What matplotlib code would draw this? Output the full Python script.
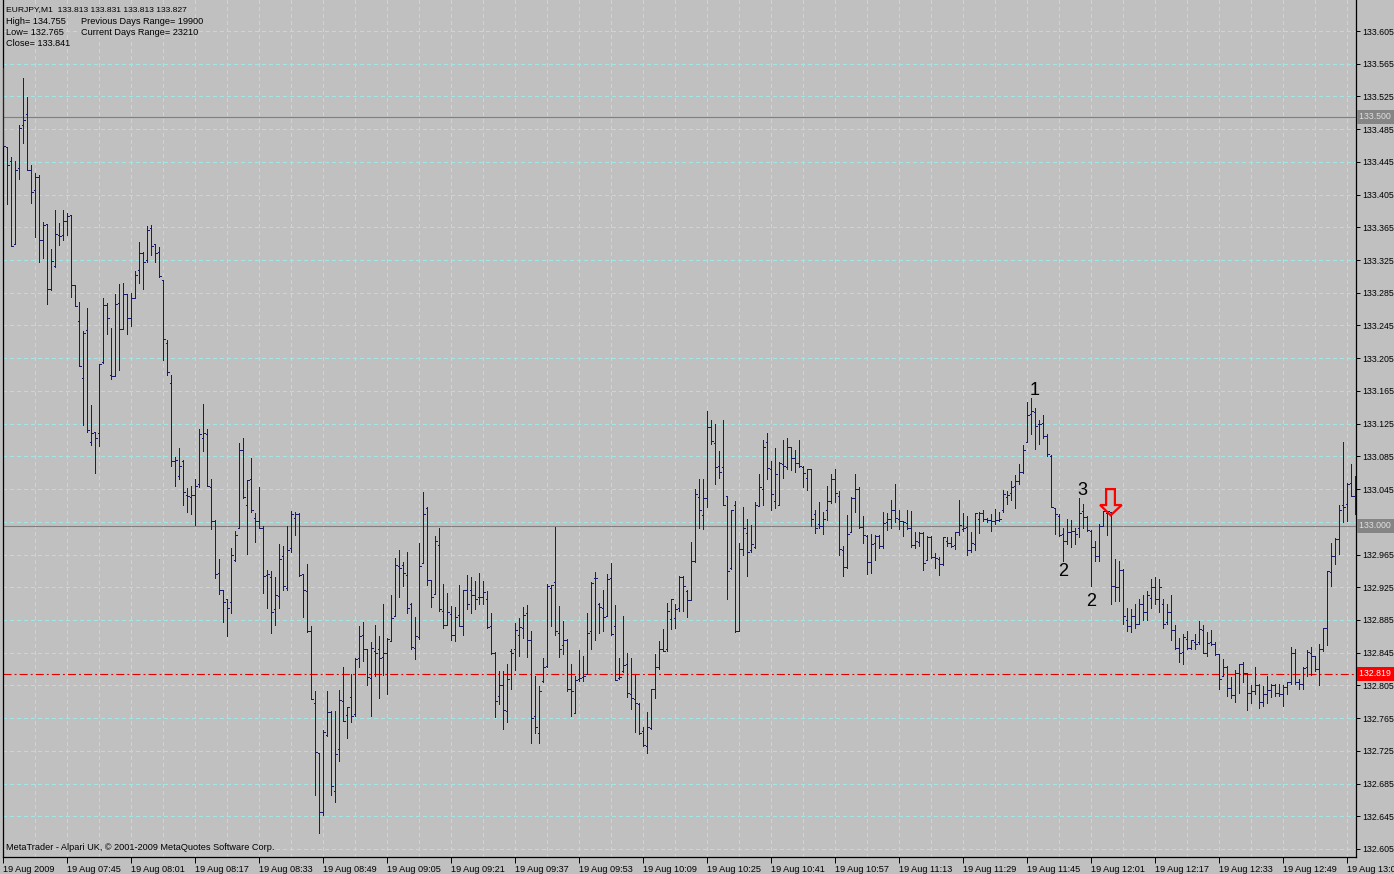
import matplotlib
matplotlib.use("Agg")
import matplotlib.pyplot as plt
import matplotlib.transforms as mtransforms
from matplotlib.collections import LineCollection
from matplotlib.patches import Polygon
import numpy as np

plt.rcParams['font.family'] = ['Liberation Sans', 'DejaVu Sans']
plt.rcParams['lines.scale_dashes'] = False

# EURJPY M1 bars, one per minute starting 07:29
opens = [
    133.520, 133.463, 133.446, 133.344, 133.438, 133.490, 133.503, 133.435, 133.411, 133.427,
    133.349, 133.369, 133.289, 133.318, 133.355, 133.355, 133.373, 133.380, 133.295, 133.250,
    133.181, 133.239, 133.103, 133.115, 133.113, 133.200, 133.270, 133.185, 133.183, 133.272,
    133.241, 133.284, 133.254, 133.278, 133.313, 133.334, 133.325, 133.364, 133.344, 133.335,
    133.300, 133.223, 133.175, 133.079, 133.061, 133.079, 133.038, 133.035, 133.038, 133.051,
    133.107, 133.112, 133.048, 133.006, 132.943, 132.922, 132.910, 132.907, 132.958, 132.998,
    133.093, 133.026, 133.057, 133.010, 133.006, 132.997, 132.940, 132.937, 132.898, 132.914,
    132.963, 132.924, 132.973, 133.010, 133.015, 132.941, 132.921, 132.872, 132.784, 132.722,
    132.650, 132.744, 132.772, 132.676, 132.727, 132.786, 132.769, 132.791, 132.770, 132.839,
    132.867, 132.849, 132.814, 132.847, 132.849, 132.840, 132.845, 132.859, 132.890, 132.951,
    132.952, 132.940, 132.905, 132.851, 132.864, 132.955, 133.022, 132.934, 132.917, 132.977,
    132.896, 132.879, 132.892, 132.867, 132.891, 132.877, 132.922, 132.922, 132.915, 132.913,
    132.913, 132.911, 132.877, 132.844, 132.792, 132.805, 132.774, 132.847, 132.850, 132.866,
    132.875, 132.893, 132.860, 132.767, 132.747, 132.810, 132.829, 132.924, 132.931, 132.869,
    132.854, 132.861, 132.800, 132.771, 132.813, 132.815, 132.819, 132.872, 132.936, 132.905,
    132.900, 132.890, 132.936, 132.877, 132.814, 132.822, 132.831, 132.795, 132.788, 132.782,
    132.749, 132.731, 132.753, 132.800, 132.828, 132.850, 132.850, 132.886, 132.887, 132.900,
    132.937, 132.921, 132.909, 132.957, 133.035, 133.013, 133.034, 133.121, 133.101, 133.073,
    133.072, 133.036, 132.949, 133.026, 132.872, 132.972, 132.991, 132.970, 132.974, 133.024,
    133.045, 133.102, 133.070, 133.030, 133.025, 133.076, 133.072, 133.096, 133.083, 133.077,
    133.072, 133.059, 133.069, 133.015, 133.002, 133.000, 133.019, 133.030, 133.057, 133.036,
    132.971, 132.950, 132.992, 133.034, 133.045, 132.999, 132.988, 132.956, 132.979, 132.988,
    132.975, 133.005, 133.009, 133.019, 133.009, 133.006, 133.004, 132.997, 132.977, 132.980,
    132.991, 132.958, 132.986, 132.962, 132.959, 132.954, 132.982, 132.979, 132.977, 132.992,
    132.996, 132.999, 132.970, 132.978, 133.009, 133.016, 133.009, 133.007, 133.006, 133.007,
    133.019, 133.035, 133.040, 133.049, 133.055, 133.066, 133.103, 133.137, 133.139, 133.124,
    133.126, 133.110, 133.086, 133.022, 133.012, 132.990, 132.981, 132.993, 132.994, 132.997,
    133.018, 133.011, 132.994, 132.974, 132.963, 133.000, 133.016, 133.017, 132.926, 132.925,
    132.946, 132.885, 132.878, 132.890, 132.880, 132.905, 132.895, 132.912, 132.925, 132.910,
    132.905, 132.882, 132.895, 132.873, 132.851, 132.846, 132.862, 132.851, 132.858, 132.858,
    132.873, 132.845, 132.858, 132.856, 132.843, 132.816, 132.828, 132.802, 132.793, 132.820,
    132.831, 132.820, 132.796, 132.798, 132.805, 132.785, 132.795, 132.799, 132.805, 132.796,
    132.795, 132.803, 132.809, 132.845, 132.809, 132.807, 132.827, 132.845, 132.841, 132.825,
    132.849, 132.875, 132.944, 132.963, 132.984, 133.025, 133.027, 133.052, 133.037,
]
highs = [
    133.560, 133.463, 133.451, 133.446, 133.490, 133.547, 133.524, 133.441, 133.432, 133.429,
    133.371, 133.369, 133.338, 133.386, 133.370, 133.386, 133.382, 133.380, 133.295, 133.274,
    133.238, 133.266, 133.148, 133.115, 133.198, 133.278, 133.272, 133.242, 133.283, 133.296,
    133.297, 133.284, 133.285, 133.312, 133.347, 133.335, 133.367, 133.368, 133.345, 133.341,
    133.300, 133.227, 133.185, 133.084, 133.095, 133.080, 133.046, 133.049, 133.057, 133.118,
    133.149, 133.119, 133.057, 133.007, 132.959, 132.922, 132.911, 132.973, 132.994, 133.101,
    133.107, 133.056, 133.083, 133.016, 133.047, 133.000, 132.946, 132.945, 132.937, 132.978,
    132.975, 133.000, 133.018, 133.017, 133.016, 132.941, 132.953, 132.877, 132.798, 132.722,
    132.750, 132.798, 132.774, 132.774, 132.799, 132.828, 132.779, 132.819, 132.838, 132.878,
    132.882, 132.850, 132.858, 132.879, 132.865, 132.904, 132.863, 132.916, 132.961, 132.970,
    132.956, 132.968, 132.906, 132.889, 132.979, 133.042, 133.023, 132.934, 132.988, 132.997,
    132.929, 132.918, 132.902, 132.901, 132.928, 132.922, 132.940, 132.938, 132.933, 132.943,
    132.933, 132.920, 132.894, 132.846, 132.823, 132.822, 132.831, 132.850, 132.881, 132.887,
    132.901, 132.903, 132.872, 132.817, 132.804, 132.839, 132.929, 132.928, 132.999, 132.902,
    132.884, 132.862, 132.831, 132.816, 132.848, 132.841, 132.894, 132.931, 132.944, 132.906,
    132.922, 132.941, 132.955, 132.903, 132.839, 132.890, 132.844, 132.839, 132.818, 132.783,
    132.754, 132.772, 132.801, 132.843, 132.859, 132.874, 132.906, 132.911, 132.905, 132.939,
    132.939, 132.922, 132.980, 133.045, 133.057, 133.057, 133.140, 133.130, 133.125, 133.092,
    133.129, 133.036, 133.019, 133.030, 132.979, 133.023, 133.008, 133.001, 133.029, 133.064,
    133.105, 133.114, 133.079, 133.095, 133.078, 133.105, 133.107, 133.096, 133.093, 133.105,
    133.073, 133.070, 133.069, 133.019, 133.029, 133.017, 133.049, 133.064, 133.070, 133.043,
    132.975, 133.013, 133.035, 133.064, 133.047, 133.012, 132.989, 132.990, 132.989, 132.989,
    133.017, 133.016, 133.032, 133.051, 133.020, 133.006, 133.019, 133.018, 132.993, 132.992,
    132.992, 132.988, 132.988, 132.967, 132.962, 132.987, 132.987, 132.986, 132.993, 133.032,
    133.016, 133.012, 132.992, 133.016, 133.017, 133.020, 133.010, 133.015, 133.021, 133.017,
    133.044, 133.043, 133.055, 133.062, 133.076, 133.099, 133.151, 133.156, 133.144, 133.130,
    133.135, 133.112, 133.087, 133.022, 133.014, 132.997, 133.008, 133.007, 132.998, 133.034,
    133.027, 133.012, 132.995, 132.981, 133.002, 133.018, 133.018, 133.017, 132.959, 132.957,
    132.947, 132.900, 132.898, 132.905, 132.910, 132.915, 132.920, 132.935, 132.937, 132.935,
    132.910, 132.905, 132.915, 132.879, 132.863, 132.868, 132.871, 132.861, 132.868, 132.884,
    132.879, 132.870, 132.873, 132.858, 132.843, 132.837, 132.829, 132.815, 132.824, 132.831,
    132.834, 132.820, 132.806, 132.828, 132.807, 132.804, 132.816, 132.807, 132.807, 132.807,
    132.805, 132.809, 132.852, 132.850, 132.813, 132.827, 132.848, 132.852, 132.841, 132.856,
    132.875, 132.945, 132.979, 132.985, 133.025, 133.103, 133.053, 133.076, 133.061,
]
lows = [
    133.464, 133.394, 133.342, 133.344, 133.424, 133.468, 133.435, 133.395, 133.353, 133.322,
    133.327, 133.271, 133.288, 133.316, 133.343, 133.349, 133.355, 133.280, 133.269, 133.195,
    133.123, 133.115, 133.099, 133.065, 133.098, 133.199, 133.234, 133.179, 133.183, 133.191,
    133.241, 133.234, 133.244, 133.278, 133.297, 133.289, 133.323, 133.331, 133.322, 133.304,
    133.203, 133.185, 133.073, 133.049, 133.057, 133.025, 133.017, 133.015, 133.001, 133.048,
    133.091, 133.049, 132.996, 132.936, 132.917, 132.882, 132.865, 132.893, 132.957, 132.997,
    133.034, 132.966, 133.017, 132.980, 132.997, 132.918, 132.900, 132.869, 132.879, 132.900,
    132.922, 132.922, 132.968, 132.989, 132.939, 132.888, 132.870, 132.788, 132.671, 132.624,
    132.647, 132.743, 132.671, 132.663, 132.712, 132.761, 132.741, 132.760, 132.767, 132.827,
    132.835, 132.805, 132.767, 132.816, 132.789, 132.818, 132.794, 132.859, 132.890, 132.913,
    132.926, 132.893, 132.849, 132.837, 132.862, 132.955, 132.928, 132.901, 132.917, 132.896,
    132.875, 132.879, 132.861, 132.859, 132.877, 132.867, 132.898, 132.893, 132.898, 132.905,
    132.905, 132.875, 132.843, 132.766, 132.782, 132.752, 132.760, 132.801, 132.824, 132.841,
    132.863, 132.840, 132.734, 132.747, 132.735, 132.809, 132.828, 132.877, 132.866, 132.840,
    132.843, 132.798, 132.768, 132.771, 132.810, 132.810, 132.819, 132.850, 132.860, 132.869,
    132.872, 132.890, 132.866, 132.812, 132.813, 132.821, 132.791, 132.776, 132.748, 132.746,
    132.731, 132.722, 132.752, 132.789, 132.825, 132.847, 132.847, 132.874, 132.875, 132.896,
    132.896, 132.889, 132.909, 132.956, 132.998, 132.996, 133.023, 133.100, 133.051, 133.059,
    133.026, 132.910, 132.947, 132.870, 132.872, 132.964, 132.939, 132.968, 132.973, 133.024,
    133.025, 133.057, 133.019, 133.022, 133.025, 133.059, 133.069, 133.068, 133.066, 133.072,
    133.048, 133.044, 133.000, 132.991, 132.997, 132.990, 133.007, 133.028, 133.029, 132.965,
    132.939, 132.948, 132.992, 133.017, 132.997, 132.979, 132.941, 132.943, 132.958, 132.973,
    132.973, 132.995, 132.997, 133.005, 132.996, 132.988, 132.996, 132.974, 132.973, 132.975,
    132.946, 132.958, 132.961, 132.949, 132.940, 132.952, 132.975, 132.974, 132.972, 132.989,
    132.994, 132.964, 132.968, 132.971, 132.991, 133.006, 133.005, 132.994, 133.002, 133.006,
    133.017, 133.027, 133.032, 133.022, 133.051, 133.065, 133.102, 133.112, 133.094, 133.100,
    133.108, 133.086, 133.023, 132.990, 132.988, 132.957, 132.978, 132.974, 132.978, 132.986,
    132.998, 132.994, 132.927, 132.957, 132.957, 133.000, 132.989, 132.904, 132.908, 132.908,
    132.880, 132.872, 132.870, 132.875, 132.880, 132.885, 132.885, 132.900, 132.905, 132.895,
    132.875, 132.880, 132.861, 132.850, 132.834, 132.831, 132.850, 132.850, 132.850, 132.856,
    132.844, 132.841, 132.854, 132.842, 132.800, 132.816, 132.792, 132.789, 132.785, 132.796,
    132.809, 132.775, 132.784, 132.795, 132.777, 132.780, 132.783, 132.791, 132.792, 132.792,
    132.780, 132.794, 132.807, 132.807, 132.800, 132.801, 132.816, 132.818, 132.822, 132.805,
    132.847, 132.854, 132.926, 132.954, 132.966, 133.005, 133.006, 133.036, 133.014,
]
closes = [
    133.464, 133.441, 133.342, 133.435, 133.487, 133.496, 133.435, 133.408, 133.427, 133.350,
    133.368, 133.290, 133.324, 133.357, 133.354, 133.373, 133.379, 133.295, 133.269, 133.195,
    133.236, 133.117, 133.113, 133.107, 133.198, 133.270, 133.254, 133.183, 133.271, 133.241,
    133.284, 133.254, 133.278, 133.307, 133.334, 133.322, 133.362, 133.342, 133.333, 133.306,
    133.228, 133.188, 133.079, 133.081, 133.073, 133.042, 133.036, 133.038, 133.049, 133.112,
    133.114, 133.049, 133.006, 132.941, 132.922, 132.907, 132.900, 132.965, 132.989, 133.093,
    133.035, 133.056, 133.019, 133.006, 132.998, 132.939, 132.941, 132.895, 132.916, 132.960,
    132.927, 132.970, 133.014, 133.015, 132.940, 132.922, 132.871, 132.788, 132.724, 132.650,
    132.748, 132.772, 132.682, 132.721, 132.787, 132.761, 132.778, 132.767, 132.837, 132.865,
    132.849, 132.815, 132.851, 132.845, 132.839, 132.845, 132.862, 132.887, 132.952, 132.949,
    132.942, 132.900, 132.852, 132.865, 132.951, 133.014, 132.934, 132.913, 132.981, 132.898,
    132.879, 132.895, 132.866, 132.889, 132.878, 132.922, 132.905, 132.916, 132.911, 132.913,
    132.919, 132.876, 132.844, 132.786, 132.805, 132.775, 132.813, 132.845, 132.873, 132.876,
    132.891, 132.861, 132.765, 132.754, 132.798, 132.828, 132.926, 132.928, 132.871, 132.850,
    132.860, 132.801, 132.798, 132.812, 132.814, 132.817, 132.869, 132.930, 132.936, 132.901,
    132.889, 132.935, 132.868, 132.812, 132.815, 132.830, 132.796, 132.789, 132.783, 132.747,
    132.732, 132.754, 132.800, 132.827, 132.849, 132.847, 132.896, 132.910, 132.898, 132.938,
    132.926, 132.909, 132.957, 133.039, 133.019, 133.034, 133.121, 133.104, 133.072, 133.066,
    133.026, 132.945, 133.019, 132.872, 132.972, 132.997, 132.968, 132.978, 133.026, 133.048,
    133.097, 133.071, 133.039, 133.063, 133.077, 133.073, 133.097, 133.083, 133.077, 133.073,
    133.065, 133.069, 133.008, 132.997, 133.000, 133.008, 133.030, 133.057, 133.040, 132.972,
    132.950, 132.990, 133.034, 133.045, 132.999, 132.989, 132.956, 132.978, 132.988, 132.975,
    133.003, 133.009, 133.020, 133.010, 133.006, 133.005, 132.997, 132.977, 132.981, 132.991,
    132.955, 132.986, 132.962, 132.961, 132.954, 132.987, 132.979, 132.976, 132.992, 133.001,
    132.997, 132.971, 132.979, 133.016, 133.016, 133.008, 133.007, 133.006, 133.007, 133.009,
    133.039, 133.038, 133.047, 133.055, 133.066, 133.093, 133.135, 133.141, 133.122, 133.124,
    133.110, 133.088, 133.023, 133.014, 132.989, 132.982, 132.993, 132.994, 132.990, 133.016,
    133.011, 132.995, 132.974, 132.963, 133.000, 133.018, 133.018, 132.926, 132.925, 132.946,
    132.890, 132.878, 132.890, 132.880, 132.905, 132.895, 132.915, 132.925, 132.910, 132.925,
    132.880, 132.895, 132.873, 132.851, 132.845, 132.864, 132.851, 132.860, 132.856, 132.874,
    132.845, 132.857, 132.856, 132.843, 132.813, 132.827, 132.802, 132.793, 132.820, 132.831,
    132.820, 132.796, 132.798, 132.805, 132.785, 132.794, 132.799, 132.805, 132.796, 132.795,
    132.803, 132.809, 132.845, 132.809, 132.807, 132.826, 132.846, 132.841, 132.825, 132.849,
    132.875, 132.945, 132.963, 132.984, 133.019, 133.023, 133.051, 133.037, 133.048,
]

price_levels = [133.605, 133.565, 133.525, 133.485, 133.445, 133.405, 133.365, 133.325,
                133.285, 133.245, 133.205, 133.165, 133.125, 133.085, 133.045, 133.005,
                132.965, 132.925, 132.885, 132.845, 132.805, 132.765, 132.725, 132.685,
                132.645, 132.605]
hidden_levels = [133.005]  # covered by the 133.000 marker on the scale
time_labels = ["19 Aug 2009", "19 Aug 07:45", "19 Aug 08:01", "19 Aug 08:17", "19 Aug 08:33",
               "19 Aug 08:49", "19 Aug 09:05", "19 Aug 09:21", "19 Aug 09:37", "19 Aug 09:53",
               "19 Aug 10:09", "19 Aug 10:25", "19 Aug 10:41", "19 Aug 10:57", "19 Aug 11:13",
               "19 Aug 11:29", "19 Aug 11:45", "19 Aug 12:01", "19 Aug 12:17", "19 Aug 12:33",
               "19 Aug 12:49", "19 Aug 13:05"]
level_lines = [133.500, 133.000]
bid_level = 132.819

header_lines = ["EURJPY,M1  133.813 133.831 133.813 133.827",
                "High= 134.755", "Low= 132.765", "Close= 133.841"]
range_lines = ["Previous Days Range= 19900", "Current Days Range= 23210"]

BG = "#C0C0C0"
GRID = "#A2E6E6"
BAR = "#1A1A6C"

W, H = 1394, 874
fig = plt.figure(figsize=(W / 100, H / 100), dpi=100)
fig.patch.set_facecolor(BG)
ax = fig.add_axes([3 / W, 17 / H, 1353 / W, 857 / H])
ax.set_facecolor(BG)

n = len(opens)
xs = np.arange(n)
o = np.array(opens)
c = np.array(closes)
hi = np.maximum(np.array(highs), np.maximum(o, c))
lo = np.minimum(np.array(lows), np.minimum(o, c))

# grid
for lv in price_levels:
    ax.axhline(lv, color=GRID, lw=0.72, ls=(0, (2.4, 2.2)), zorder=1, antialiased=False)
for k in range(8, n, 8):
    ax.axvline(k, color=GRID, lw=0.72, ls=(0, (2.4, 2.2)), zorder=1, antialiased=False)

for lv in level_lines:
    ax.axhline(lv, color="#808080", lw=0.8, zorder=2)
ax.axhline(bid_level, color="#E00000", lw=0.8, ls=(0, (5.8, 2.2, 1.4, 2.2)), zorder=2)

# OHLC bars
segs = []
for xi, oi, hh, ll, ci in zip(xs, o, hi, lo, c):
    segs.append([(xi, ll), (xi, hh)])
    segs.append([(xi - 0.4, oi), (xi, oi)])
    segs.append([(xi, ci), (xi + 0.4, ci)])
ax.add_collection(LineCollection(segs, colors=BAR, linewidths=0.72, zorder=3, antialiased=False))

ax.set_xlim(-0.075, 338.175)
ax.set_ylim(132.5952, 133.6429)

for side in ["left", "right", "bottom"]:
    ax.spines[side].set_color("black")
    ax.spines[side].set_linewidth(0.9)
ax.spines["top"].set_visible(False)

# right price scale
ax.yaxis.tick_right()
ax.set_yticks(price_levels)
ax.set_yticklabels(["" if v in hidden_levels else f"{v:.3f}" for v in price_levels])
ax.tick_params(axis="y", length=3, width=0.7, pad=1.5, labelsize=6.3, colors="black")

# bottom time scale
ax.set_xticks(np.arange(len(time_labels)) * 16)
ax.set_xticklabels(time_labels)
ax.tick_params(axis="x", length=4, width=0.7, pad=1.5, labelsize=6.6, colors="black")
for lab in ax.get_xticklabels():
    lab.set_horizontalalignment("left")

# highlighted price labels
blend = mtransforms.blended_transform_factory(ax.transAxes, ax.transData)
for lv in level_lines:
    ax.text(1 + 3 / 1353, lv, f"{lv:.3f} ", transform=blend, ha="left", va="center",
            fontsize=6.3, color="#E0E0E0", zorder=6, clip_on=False,
            bbox=dict(boxstyle="square,pad=0.25", fc="#858585", ec="none"))
ax.text(1 + 3 / 1353, bid_level, f"{bid_level:.3f} ", transform=blend, ha="left", va="center",
        fontsize=6.3, color="white", zorder=6, clip_on=False,
        bbox=dict(boxstyle="square,pad=0.25", fc="#FF0000", ec="none"))

# header texts
for i, t in enumerate(header_lines):
    fs = 6.1 if i == 0 else 6.6
    fig.text(6 / W, 1 - (10 + 11.3 * i) / H, t, fontsize=fs, va="center", ha="left")
for i, t in enumerate(range_lines):
    fig.text(81 / W, 1 - (21 + 11.3 * i) / H, t, fontsize=6.6, va="center", ha="left")
fig.text(6 / W, 1 - 848 / H, "MetaTrader - Alpari UK, © 2001-2009 MetaQuotes Software Corp.",
         fontsize=6.6, va="center", ha="left")

# wave labels and sell arrow
for lbl, kx, py in [("1", 257.9, 133.166), ("3", 269.7, 133.043),
                    ("2", 264.9, 132.944), ("2", 271.9, 132.907)]:
    ax.text(kx, py, lbl, fontsize=13, ha="center", va="center", color="black", zorder=5)

arrow = Polygon([(275.7, 133.045), (277.9, 133.045), (277.9, 133.0255), (279.6, 133.0255),
                 (276.85, 133.013), (274.2, 133.0255), (275.7, 133.0255)],
                closed=True, fc="none", ec="#FF0000", lw=1.6, zorder=5)
ax.add_patch(arrow)

fig.savefig("out.png", dpi=100, facecolor=BG)
